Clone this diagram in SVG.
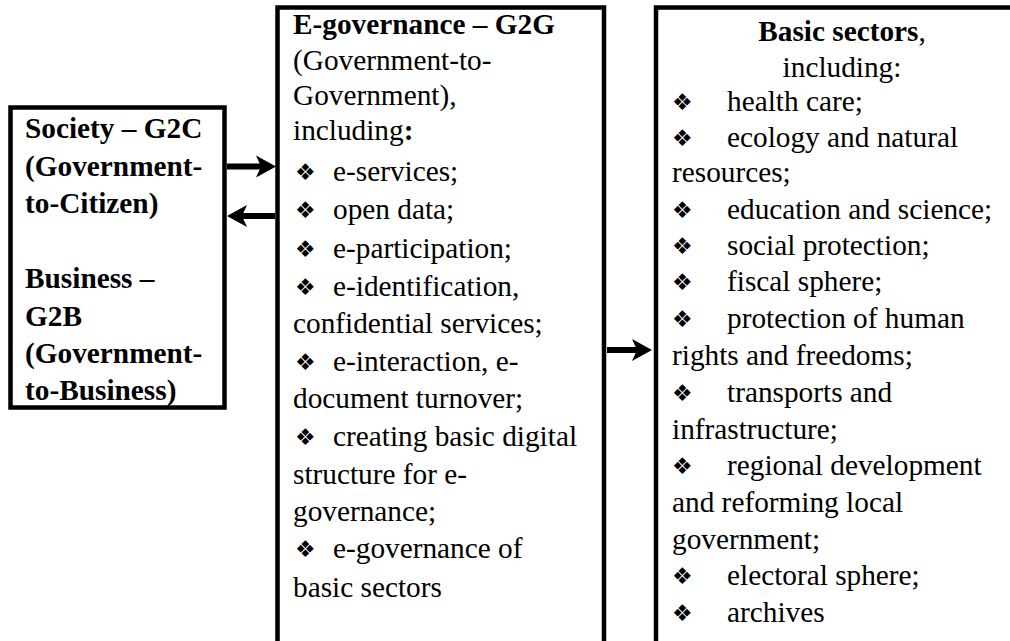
<svg xmlns="http://www.w3.org/2000/svg" width="1010" height="641" viewBox="0 0 1010 641">
<style>
text{font-family:"Liberation Serif","Times New Roman",serif;font-size:29.3px;fill:#000}
.box{fill:#fff;stroke:#000;stroke-width:4.5}
.bold{font-weight:bold}
.bullet{font-family:"DejaVu Sans",sans-serif;font-size:23px}
.ctr{text-anchor:middle}
.conn{stroke:#000;stroke-width:6;fill:none}
</style>
<defs>
<marker id="ah" markerUnits="userSpaceOnUse" markerWidth="30" markerHeight="30" viewBox="-10 -15 30 30" refX="0" refY="0" orient="auto">
<path d="M14,0 L-6,-11 L-1,0 L-6,11 Z" fill="#000"/>
</marker>
</defs>
<rect width="1010" height="641" fill="#fff"/>
<g id="node-society">
<rect class="box" x="10.5" y="107.5" width="214" height="300"/>
<text class="bold" x="25" y="138">Society – G2C</text>
<text class="bold" x="25" y="176">(Government-</text>
<text class="bold" x="25" y="213">to-Citizen)</text>
<text class="bold" x="25" y="288">Business –</text>
<text class="bold" x="25" y="326">G2B</text>
<text class="bold" x="25" y="363">(Government-</text>
<text class="bold" x="25" y="400">to-Business)</text>
</g>
<g id="node-egov">
<rect class="box" x="277.5" y="7.5" width="326.5" height="700"/>
<text class="bold" x="293" y="34">E-governance – G2G</text>
<text x="293" y="70">(Government-to-</text>
<text x="293" y="105">Government),</text>
<text x="293" y="140">including<tspan class="bold">:</tspan></text>
<text class="bullet" x="295" y="180">❖</text><text x="333" y="181">e-services;</text>
<text class="bullet" x="295" y="218">❖</text><text x="333" y="219">open data;</text>
<text class="bullet" x="295" y="257">❖</text><text x="333" y="258">e-participation;</text>
<text class="bullet" x="295" y="295">❖</text><text x="333" y="296">e-identification,</text>
<text x="293" y="333">confidential services;</text>
<text class="bullet" x="295" y="370">❖</text><text x="333" y="371">e-interaction, e-</text>
<text x="293" y="408">document turnover;</text>
<text class="bullet" x="295" y="445">❖</text><text x="333" y="446">creating basic digital</text>
<text x="293" y="484">structure for e-</text>
<text x="293" y="521">governance;</text>
<text class="bullet" x="295" y="557">❖</text><text x="333" y="558">e-governance of</text>
<text x="293" y="597">basic sectors</text>
</g>
<g id="node-sectors">
<rect class="box" x="656" y="7.5" width="400" height="700"/>
<text class="ctr" x="842" y="41"><tspan class="bold">Basic sectors</tspan>,</text>
<text class="ctr" x="842" y="77">including:</text>
<text class="bullet" x="672" y="110">❖</text><text x="727" y="111">health care;</text>
<text class="bullet" x="672" y="146">❖</text><text x="727" y="147">ecology and natural</text>
<text x="672" y="182">resources;</text>
<text class="bullet" x="672" y="218">❖</text><text x="727" y="219">education and science;</text>
<text class="bullet" x="672" y="254">❖</text><text x="727" y="255">social protection;</text>
<text class="bullet" x="672" y="290">❖</text><text x="727" y="291">fiscal sphere;</text>
<text class="bullet" x="672" y="327">❖</text><text x="727" y="328">protection of human</text>
<text x="672" y="365">rights and freedoms;</text>
<text class="bullet" x="672" y="401">❖</text><text x="727" y="402">transports and</text>
<text x="672" y="439">infrastructure;</text>
<text class="bullet" x="672" y="474">❖</text><text x="727" y="475">regional development</text>
<text x="672" y="512">and reforming local</text>
<text x="672" y="549">government;</text>
<text class="bullet" x="672" y="584">❖</text><text x="727" y="585">electoral sphere;</text>
<text class="bullet" x="672" y="621">❖</text><text x="727" y="622">archives</text>
</g>
<g id="connectors">
<path class="conn" d="M227,166.5 H262" marker-end="url(#ah)"/>
<path class="conn" d="M275,216 H241" marker-end="url(#ah)"/>
<path class="conn" d="M607,350 H638" marker-end="url(#ah)"/>
</g>
</svg>
